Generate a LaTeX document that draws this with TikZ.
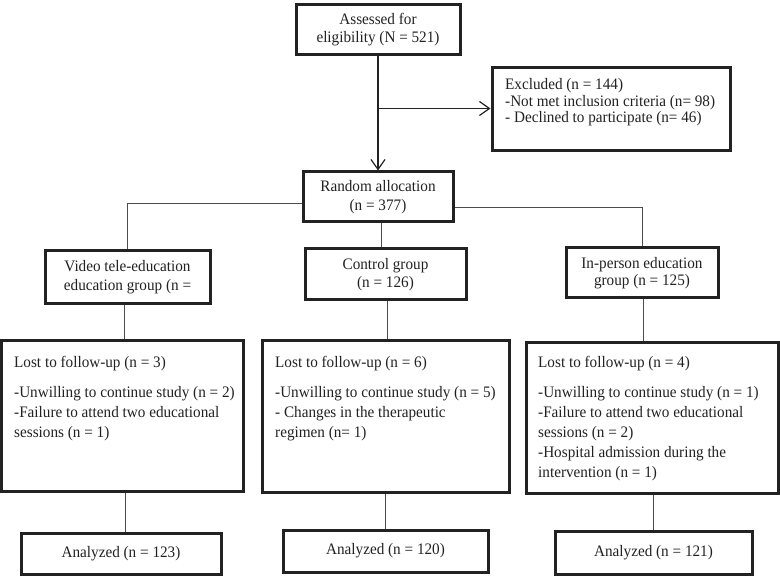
\documentclass[tikz,border=0pt]{standalone}
\usepackage{fontspec}
\setmainfont[FakeStretch=0.95]{Liberation Serif}
\usetikzlibrary{arrows.meta,calc}
\definecolor{ink}{HTML}{222222}
\begin{document}
\begin{tikzpicture}[x=1pt,y=-1pt,
  box/.style={draw=ink, line width=3pt, inner sep=0pt, align=center, text=ink, font=\fontsize{16}{19}\selectfont},
  conn/.style={draw=black!70, line width=0.9pt},
  arr/.style={draw=ink, line width=1.4pt, -{Straight Barb[length=10pt,width=14pt,line width=1.2pt]}},
  txt/.style={inner sep=0pt, anchor=base west, text=ink, font=\fontsize{16}{20}\selectfont}]
\useasboundingbox (0,0) rectangle (780,577);
\fill[white] (0,0) rectangle (780,577);

% top
\node[box, minimum width=164pt, minimum height=50pt, font=\fontsize{16}{18}\selectfont] (assess) at (378,30) {Assessed for\\eligibility (N = 521)};
\node[box, minimum width=238pt, minimum height=83pt] (excl) at (611,109.5) {};
\node[txt, font=\fontsize{16}{16.5}\selectfont] (exclt) at (505,90) {\begin{tabular}[t]{@{}l@{}}Excluded (n = 144)\\-Not met inclusion criteria (n= 98)\\- Declined to participate (n= 46)\end{tabular}};
\node[box, minimum width=150pt, minimum height=50pt] (rand) at (378,197) {Random allocation\\(n = 377)};

% groups
\node[box, minimum width=165pt, minimum height=53pt] (vid) at (127.5,277.5) {Video tele-education\\education group (n =};
\node[box, minimum width=161pt, minimum height=51pt, font=\fontsize{16}{17.5}\selectfont] (ctrl) at (385.5,274.5) {Control group\\(n = 126)};
\node[box, minimum width=152pt, minimum height=50pt, font=\fontsize{16}{17.5}\selectfont] (inp) at (642,273) {In-person education\\group (n = 125)};

% lost
\node[box, minimum width=242pt, minimum height=151pt] (lost1) at (122,416.5) {};
\node[box, minimum width=247pt, minimum height=152pt] (lost2) at (385.5,417) {};
\node[box, minimum width=252pt, minimum height=151pt] (lost3) at (652,418.5) {};
\node[txt] (lost1t) at (14,368) {\begin{tabular}[t]{@{}l@{}}Lost to follow-up (n = 3)\\[10pt]-Unwilling to continue study (n = 2)\\-Failure to attend two educational\\sessions (n = 1)\end{tabular}};
\node[txt] (lost2t) at (275,368) {\begin{tabular}[t]{@{}l@{}}Lost to follow-up (n = 6)\\[10pt]-Unwilling to continue study (n = 5)\\- Changes in the therapeutic\\regimen (n= 1)\end{tabular}};
\node[txt] (lost3t) at (538,368) {\begin{tabular}[t]{@{}l@{}}Lost to follow-up (n = 4)\\[10pt]-Unwilling to continue study (n = 1)\\-Failure to attend two educational\\sessions (n = 2)\\-Hospital admission during the\\intervention (n = 1)\end{tabular}};

% analyzed
\node[box, minimum width=200pt, minimum height=41pt] (an1) at (121,553.5) {Analyzed (n = 123)};
\node[box, minimum width=205pt, minimum height=42pt] (an2) at (385.5,551) {Analyzed (n = 120)};
\node[box, minimum width=197pt, minimum height=43pt] (an3) at (653.5,552.5) {Analyzed (n = 121)};

% connectors
\coordinate (br) at ($(assess.south)+(0,52)$);
\draw[arr] (assess.south) -- (assess.south |- rand.north);
\draw[arr] (br) -- (br -| excl.west);

\coordinate (rl) at ($(rand.west)+(0,6)$);
\coordinate (rr) at ($(rand.east)+(0,10)$);
\coordinate (rs) at ($(rand.south)+(3,0)$);
\draw[conn] (rl) -| (vid.north);
\draw[conn] (rr) -| (inp.north);
\draw[conn] (rs) -- (rs |- ctrl.north);

\coordinate (v1) at ($(vid.south)+(-3.5,0)$);
\coordinate (v2) at ($(ctrl.south)+(1.5,0)$);
\coordinate (v3) at ($(inp.south)+(1,0)$);
\draw[conn] (v1) -- (v1 |- lost1.north);
\draw[conn] (v2) -- (v2 |- lost2.north);
\draw[conn] (v3) -- (v3 |- lost3.north);

\coordinate (l1) at ($(lost1.south)+(3,0)$);
\coordinate (l2) at ($(lost2.south)+(0,0)$);
\coordinate (l3) at ($(lost3.south)+(1.5,0)$);
\draw[conn] (l1) -- (l1 |- an1.north);
\draw[conn] (l2) -- (l2 |- an2.north);
\draw[conn] (l3) -- (l3 |- an3.north);
\end{tikzpicture}
\end{document}
